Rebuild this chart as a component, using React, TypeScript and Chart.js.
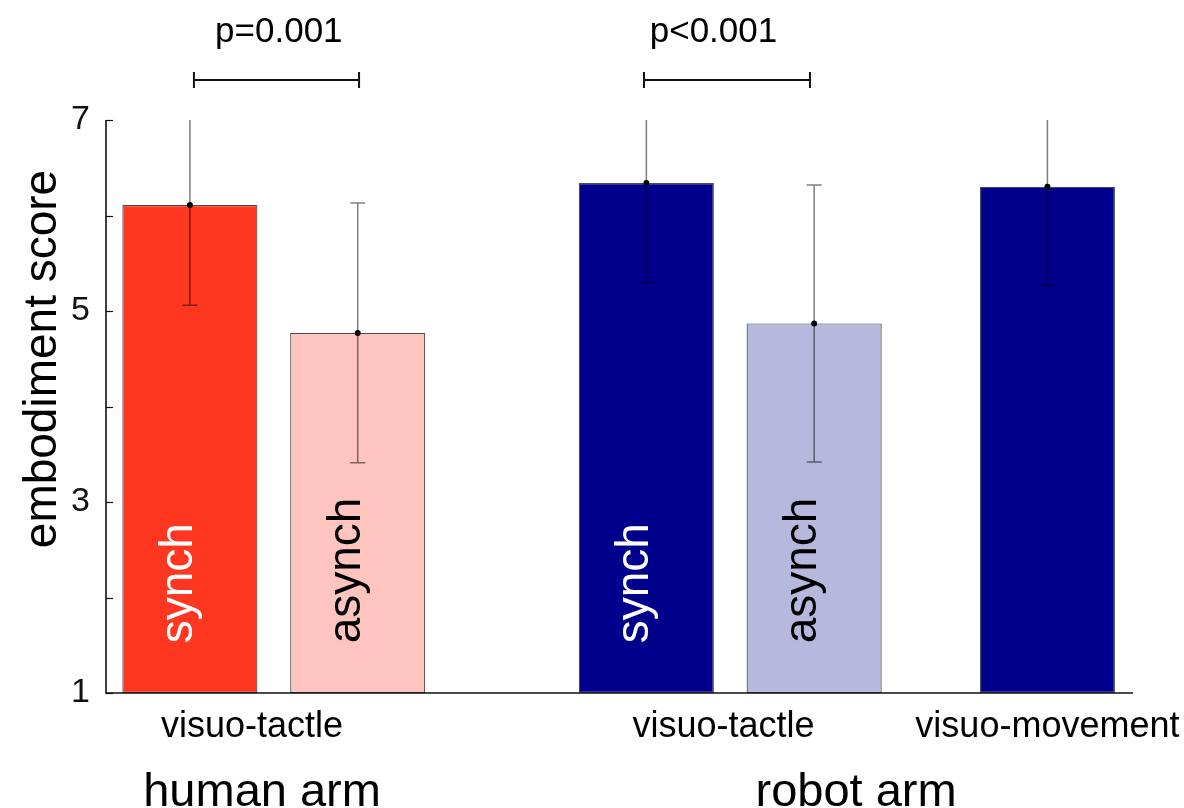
import React, { useEffect, useRef } from "react";
import { Chart, registerables } from "chart.js";

Chart.register(...registerables);

// ---- data ----
const barLabels = ["synch", "asynch", "synch", "asynch", ""];
const barX = [1, 2, 3.72, 4.72, 6.11];
const means = [6.11, 4.77, 6.34, 4.87, 6.3];
const sds = [1.05, 1.36, 1.05, 1.45, 1.03];
const barColors = ["#FF3620", "#FFC4BE", "#00008C", "#B7B8DD", "#00008C"];
const barTextColors = ["#ffffff", "#000000", "#ffffff", "#000000", "#ffffff"];
const yTickLabels = [1, 3, 5, 7];
const conditionLabels = ["visuo-tactle", "visuo-tactle", "visuo-movement"];
const conditionX = [1.37, 4.18, 6.11];
const groupLabels = ["human arm", "robot arm"];
const groupX = [1.43, 4.97];
const pLabels = ["p=0.001", "p<0.001"];
const bracketStart = [1.024, 3.706];
const bracketEnd = [2.008, 4.695];
const pTextX = [1.53, 4.12];
const yTitle = "embodiment score";

const FONT = "'Liberation Sans', Arial, Helvetica, sans-serif";

const overlayPlugin = {
  id: "overlay",
  afterDatasetsDraw(chart: any) {
    const { ctx, chartArea, scales } = chart;
    const xs = scales.x;
    const ys = scales.y;
    ctx.save();

    // in-bar rotated labels
    ctx.font = `46px ${FONT}`;
    ctx.textAlign = "left";
    ctx.textBaseline = "alphabetic";
    barLabels.forEach((t, i) => {
      if (!t) return;
      const px = xs.getPixelForValue(barX[i]) + 2;
      const py = ys.getPixelForValue(1.52);
      ctx.save();
      ctx.translate(px, py);
      ctx.rotate(-Math.PI / 2);
      ctx.fillStyle = barTextColors[i];
      ctx.fillText(t, 0, 0);
      ctx.restore();
    });

    // error bars (clipped to chart area)
    ctx.save();
    ctx.beginPath();
    ctx.rect(chartArea.left, chartArea.top, chartArea.right - chartArea.left, chartArea.bottom - chartArea.top);
    ctx.clip();
    ctx.strokeStyle = "rgba(0,0,0,0.5)";
    ctx.lineWidth = 1.5;
    means.forEach((m, i) => {
      const px = xs.getPixelForValue(barX[i]);
      const yTop = ys.getPixelForValue(m + sds[i]);
      const yBot = ys.getPixelForValue(m - sds[i]);
      ctx.beginPath();
      ctx.moveTo(px, yTop);
      ctx.lineTo(px, yBot);
      ctx.moveTo(px - 7.5, yTop);
      ctx.lineTo(px + 7.5, yTop);
      ctx.moveTo(px - 7.5, yBot);
      ctx.lineTo(px + 7.5, yBot);
      ctx.stroke();
      ctx.beginPath();
      ctx.fillStyle = "#000";
      ctx.arc(px, ys.getPixelForValue(m), 3, 0, Math.PI * 2);
      ctx.fill();
    });
    ctx.restore();

    // axes lines
    ctx.strokeStyle = "#111";
    ctx.lineWidth = 1.6;
    ctx.beginPath();
    ctx.moveTo(chartArea.left, chartArea.top);
    ctx.lineTo(chartArea.left, chartArea.bottom);
    ctx.lineTo(chartArea.right, chartArea.bottom);
    ctx.stroke();
    // inward ticks
    ctx.lineWidth = 1.2;
    for (let v = 1; v <= 7; v++) {
      const py = Math.round(ys.getPixelForValue(v)) + 0.5;
      ctx.beginPath();
      ctx.moveTo(chartArea.left, py);
      ctx.lineTo(chartArea.left + 7, py);
      ctx.stroke();
    }

    // y title
    ctx.fillStyle = "#000";
    ctx.font = `46px ${FONT}`;
    ctx.textAlign = "center";
    ctx.textBaseline = "alphabetic";
    ctx.save();
    ctx.translate(56, 359);
    ctx.rotate(-Math.PI / 2);
    ctx.fillText(yTitle, 0, 0);
    ctx.restore();

    // condition labels
    ctx.font = `36px ${FONT}`;
    conditionLabels.forEach((t, i) => {
      ctx.fillText(t, xs.getPixelForValue(conditionX[i]), 737);
    });
    // group labels
    ctx.font = `47px ${FONT}`;
    groupLabels.forEach((t, i) => {
      ctx.fillText(t, xs.getPixelForValue(groupX[i]), 806);
    });

    // significance brackets
    ctx.font = `35px ${FONT}`;
    ctx.lineWidth = 2;
    ctx.strokeStyle = "#111";
    pLabels.forEach((t, i) => {
      const x1 = xs.getPixelForValue(bracketStart[i]);
      const x2 = xs.getPixelForValue(bracketEnd[i]);
      const yb = 80;
      ctx.beginPath();
      ctx.moveTo(x1, yb);
      ctx.lineTo(x2, yb);
      ctx.moveTo(x1, yb - 8);
      ctx.lineTo(x1, yb + 8);
      ctx.moveTo(x2, yb - 8);
      ctx.lineTo(x2, yb + 8);
      ctx.stroke();
      ctx.fillText(t, xs.getPixelForValue(pTextX[i]), 42);
    });

    ctx.restore();
  },
};

export default function App() {
  const ref = useRef<HTMLCanvasElement | null>(null);
  useEffect(() => {
    if (!ref.current) return;
    const chart = new Chart(ref.current, {
      type: "bar",
      data: {
        datasets: [
          {
            data: barX.map((x, i) => ({ x, y: means[i] })),
            backgroundColor: barColors,
            borderColor: "rgba(0,0,0,0.7)",
            borderWidth: 1.2,
            borderSkipped: false,
            base: 1,
            categoryPercentage: 1,
            barPercentage: 0.805,
          } as any,
        ],
      },
      options: {
        responsive: false,
        animation: false,
        layout: { padding: { left: 0, right: 51, top: 120, bottom: 115 } },
        plugins: { legend: { display: false }, tooltip: { enabled: false } },
        scales: {
          x: {
            type: "linear",
            min: 0.5,
            max: 6.62,
            display: false,
            afterBuildTicks: (s: any) => {
              s.ticks = [];
            },
          },
          y: {
            min: 1,
            max: 7,
            afterFit: (s: any) => {
              s.width = 106;
            },
            grid: { display: false, drawTicks: false },
            border: { display: false },
            ticks: {
              stepSize: 1,
              padding: 16,
              color: "#111",
              font: { family: FONT, size: 34 },
              callback: (v: any) => (yTickLabels.includes(Number(v)) ? String(v) : ""),
            },
          },
        },
      },
      plugins: [overlayPlugin],
    });
    return () => chart.destroy();
  }, []);
  return (
    <div style={{ position: "fixed", left: 0, top: 0, width: 1184, height: 808, background: "#fff" }}>
      <canvas ref={ref} width={1184} height={808} />
    </div>
  );
}
